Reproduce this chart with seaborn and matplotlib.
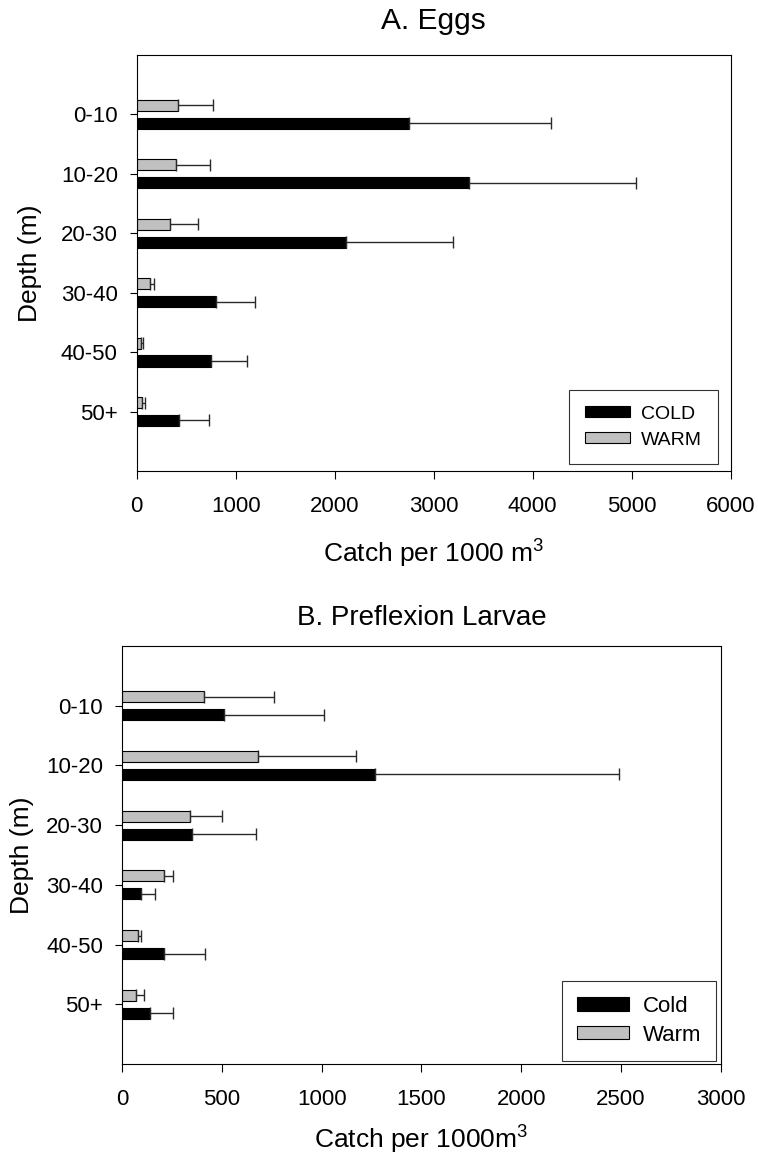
import numpy as np
import pandas as pd
import matplotlib
matplotlib.use("Agg")
import matplotlib.pyplot as plt
import seaborn as sns

# Depth strata (m)
depths = ["0-10", "10-20", "20-30", "30-40", "40-50", "50+"]

# A. Eggs: mean catch per 1000 m^3 and standard error
eggs_cold = [2750, 3360, 2115, 800, 750, 430]
eggs_cold_se = [1440, 1680, 1080, 395, 365, 305]
eggs_warm = [420, 395, 340, 130, 45, 55]
eggs_warm_se = [355, 350, 280, 45, 20, 30]

# B. Preflexion larvae: mean catch per 1000 m^3 and standard error
larv_cold = [512, 1269, 351, 93, 212, 139]
larv_cold_se = [498, 1221, 319, 74, 205, 117]
larv_warm = [409, 683, 342, 212, 80, 72]
larv_warm_se = [352, 489, 160, 45, 15, 38]

sns.set_style("ticks")
plt.rcParams["font.family"] = ["Liberation Sans", "DejaVu Sans"]
plt.rcParams["mathtext.fontset"] = "custom"
plt.rcParams["mathtext.rm"] = "Liberation Sans"
plt.rcParams["mathtext.it"] = "Liberation Sans:italic"
plt.rcParams["mathtext.bf"] = "Liberation Sans:bold"
for key in ("text.color", "axes.labelcolor", "xtick.color", "ytick.color"):
    plt.rcParams[key] = "black"

COLD_C = "black"
WARM_C = "#c0c0c0"


def panel(ax, cold, cold_se, warm, warm_se, labels, xmax, xstep, title,
          title_size, xlabel, title_pad, leg_font, leg_anchor, leg_pad,
          leg_space, handle_len, handle_h, ylabel_x, xlabel_pad):
    df = pd.DataFrame({
        "depth": depths * 2,
        "season": ["WARM"] * len(depths) + ["COLD"] * len(depths),
        "catch": list(warm) + list(cold),
    })
    sns.barplot(data=df, x="catch", y="depth", hue="season",
                hue_order=["WARM", "COLD"], order=depths,
                palette={"WARM": WARM_C, "COLD": COLD_C},
                orient="h", errorbar=None, width=0.6, gap=0.38,
                edgecolor="black", linewidth=0.8, legend=False, ax=ax)

    warm_bars, cold_bars = ax.containers[0], ax.containers[1]
    for bars, se in ((warm_bars, warm_se), (cold_bars, cold_se)):
        xs = [p.get_width() for p in bars]
        ys = [p.get_y() + p.get_height() / 2 for p in bars]
        ax.errorbar(xs, ys, xerr=[np.zeros(len(se)), se], fmt="none",
                    ecolor="#2a2a2a", elinewidth=1.0, capsize=4.6,
                    capthick=1.0, zorder=1)

    ax.set_xlim(0, xmax)
    ax.set_xticks(np.arange(0, xmax + 1, xstep))
    ax.set_ylim(len(depths), -1)
    ax.set_yticks(range(len(depths)))
    ax.set_yticklabels(depths)

    for sp in ax.spines.values():
        sp.set_visible(True)
        sp.set_color("black")
        sp.set_linewidth(0.8)

    ax.tick_params(axis="x", direction="out", length=6, width=0.8,
                   pad=12, labelsize=16, colors="black")
    ax.tick_params(axis="y", direction="out", length=5.3, width=0.8,
                   pad=8.3, labelsize=16, colors="black")

    ax.set_title(title, fontsize=title_size, pad=title_pad)
    ax.set_xlabel(xlabel, fontsize=19, labelpad=xlabel_pad)
    ax.set_ylabel("Depth (m)", fontsize=19)
    ax.yaxis.set_label_coords(ylabel_x, 0.5)

    leg = ax.legend([cold_bars, warm_bars], labels, loc="lower right",
                    bbox_to_anchor=leg_anchor, borderaxespad=0,
                    fontsize=leg_font, frameon=True, fancybox=False,
                    borderpad=leg_pad, labelspacing=leg_space,
                    handlelength=handle_len, handleheight=handle_h,
                    handletextpad=0.6)
    leg.get_frame().set_edgecolor("black")
    leg.get_frame().set_linewidth(0.8)


fig = plt.figure(figsize=(7.58, 11.64), dpi=100)
ax_a = fig.add_axes([0.1803, 0.5954, 0.7836, 0.3574])
ax_b = fig.add_axes([0.1609, 0.0859, 0.7902, 0.3591])

panel(ax_a, eggs_cold, eggs_cold_se, eggs_warm, eggs_warm_se,
      ["COLD", "WARM"], 6000, 1000, "A. Eggs", 21.5,
      r"Catch per 1000 m$^{3}$", 18.5, 14, (0.9786, 0.0161), 0.8, 0.46,
      2.32, 0.48, -0.159, 15)

panel(ax_b, larv_cold, larv_cold_se, larv_warm, larv_warm_se,
      ["Cold", "Warm"], 3000, 500, "B. Preflexion Larvae", 20,
      r"Catch per 1000m$^{3}$", 15, 16, (0.9922, 0.0079), 0.68, 0.34,
      2.35, 0.55, -0.147, 10)

fig.savefig("out.png", dpi=100)
